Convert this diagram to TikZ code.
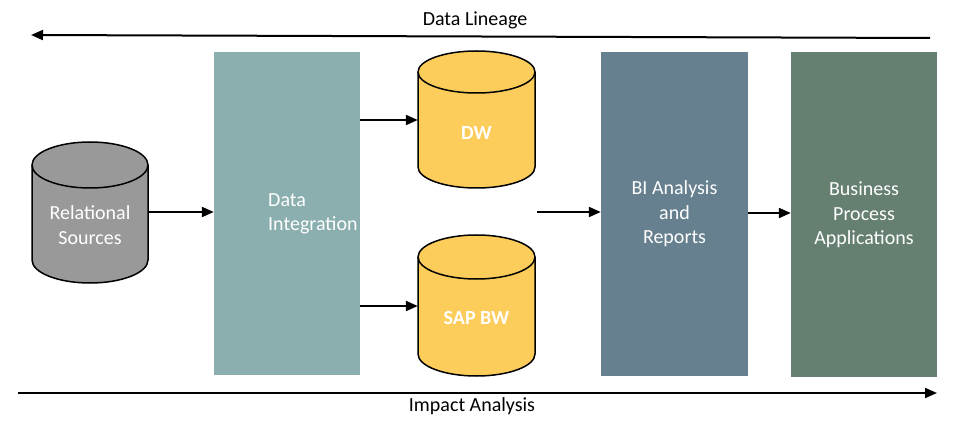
\documentclass[tikz,border=0pt]{standalone}
\usepackage{fontspec}
\setmainfont{Carlito}
\usetikzlibrary{arrows.meta}
\definecolor{integ}{RGB}{139,174,174}
\definecolor{bicol}{RGB}{102,128,143}
\definecolor{bpcol}{RGB}{101,127,113}
\definecolor{graycyl}{RGB}{153,153,153}
\definecolor{yellowcyl}{RGB}{253,205,91}
\tikzset{
  box/.style={draw=none, minimum width=146pt, minimum height=323pt, inner sep=0pt},
  boxtext/.style={text=white, font=\fontsize{20}{24.5}\selectfont, align=center, inner sep=0pt},
  cyltext/.style={text=white, font=\bfseries\fontsize{20}{24}\selectfont, align=center, inner sep=0pt},
  cylnode/.style={draw=none, inner sep=0pt, minimum width=#1},
  conn/.style={line width=2pt, -{Triangle[length=12pt,width=10pt]}},
  cylline/.style={line width=1.5pt},
  label/.style={font=\fontsize{20}{24}\selectfont, inner sep=0pt}
}
\newcommand{\mycyl}[6]{% cx, rx, ry, ytc, ybc, color
  \fill[#6] (#1-#2,#4) -- (#1-#2,#5) arc (180:360:#2 and #3) -- (#1+#2,#4) arc (0:180:#2 and #3) -- cycle;
  \draw[cylline] (#1-#2,#4) -- (#1-#2,#5) arc (180:360:#2 and #3) -- (#1+#2,#4) arc (0:180:#2 and #3) -- cycle;
  \draw[cylline] (#1-#2,#4) arc (180:360:#2 and #3);
}
\begin{document}
\begin{tikzpicture}[x=1pt,y=1pt]
\useasboundingbox (0,0) rectangle (960,-430);

% boxes
\node[box, fill=integ] (di) at (287,-213.5) {};
\node[box, fill=bicol, minimum width=147pt, minimum height=324pt] (bi) at (674.5,-214) {};
\node[box, fill=bpcol, minimum height=325pt] (bp) at (864,-214.5) {};

\node[boxtext, align=left, anchor=west] (ditext) at (268,-214) {Data\\Integration};
\node[boxtext] (bitext) at (674.5,-214) {BI Analysis\\and\\Reports};
\node[boxtext] (bptext) at (864,-215) {Business\\Process\\Applications};

% cylinders
\mycyl{90}{58}{23}{-165}{-260}{graycyl}
\mycyl{476.5}{58.5}{21}{-72}{-167}{yellowcyl}
\mycyl{476.5}{58.5}{22}{-257}{-354}{yellowcyl}

\node[cylnode=116pt, minimum height=141pt] (rs) at (90,-212) {};
\node[cylnode=117pt, minimum height=137pt] (dw) at (476.5,-120) {};
\node[cylnode=117pt, minimum height=141pt] (sap) at (476.5,-306) {};

\node[boxtext] (rstext) at (90,-225) {Relational\\Sources};
\node[cyltext] (dwtext) at (476.5,-133) {DW};
\node[cyltext] (saptext) at (476.5,-318) {SAP BW};

% connectors
\draw[conn] (rs.east) -- (rs.east -| di.west);
\draw[conn] (di.east |- dw.west) -- (dw.west);
\draw[conn] (di.east |- sap.west) -- (sap.west);
\coordinate (free) at (537,-212);
\draw[conn] (free) -- (free -| bi.west);
\draw[conn] (bi.east |- 0,-213) -- (bp.west |- 0,-213);

% lineage / impact
\coordinate (tr) at (930,-38);
\coordinate (tl) at (31,-35);
\draw[conn] (tr) -- (tl);
\node[label] (lin) at (475,-20) {Data Lineage};

\coordinate (bl) at (18,-393);
\coordinate (br) at (937,-393);
\draw[conn] (bl) -- (br);
\node[label] (imp) at (472,-406) {Impact Analysis};
\end{tikzpicture}
\end{document}
